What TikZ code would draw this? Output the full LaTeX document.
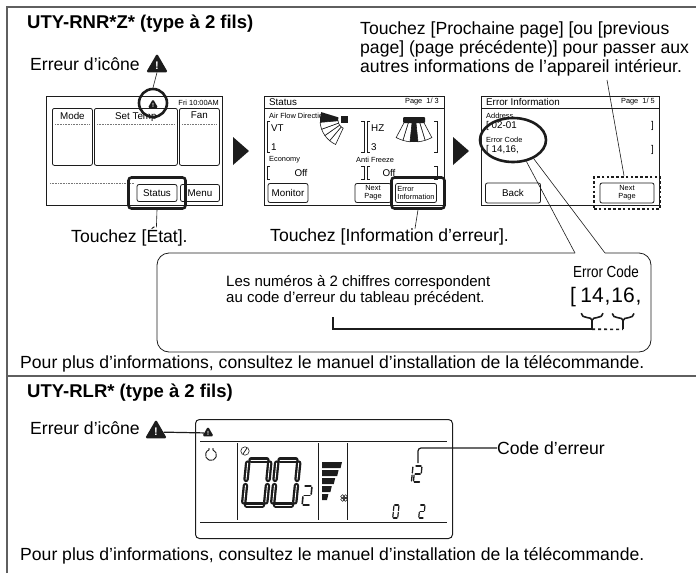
\documentclass[tikz,border=0pt]{standalone}
\usepackage{fontspec}
\setmainfont{Liberation Sans}
\usetikzlibrary{positioning,calc,shapes.geometric}
\definecolor{ink}{RGB}{28,28,28}
\definecolor{rule}{RGB}{95,95,95}
\tikzset{
  body/.style={font=\fontsize{17.6}{19}\selectfont, inner sep=0pt},
  heading/.style={font=\fontsize{18.5}{21}\selectfont\bfseries, inner sep=0pt},
  note/.style={font=\fontsize{15}{16}\selectfont, inner sep=0pt},
  tiny/.style={font=\fontsize{7.4}{8}\selectfont, inner sep=0pt},
  small/.style={font=\fontsize{9.8}{10}\selectfont, inner sep=0pt},
  errdigits/.style={font=\fontsize{21}{21}\selectfont, inner sep=0pt},
  frame/.style={rule, line width=1.1pt},
  screen/.style={draw=ink, line width=0.9pt, fill=white},
  key/.style={draw=ink, rounded corners=2pt, line width=0.8pt, fill=white},
  hilite/.style={draw=ink, line width=2.6pt, rounded corners=3pt},
  dothilite/.style={draw=ink, line width=2.6pt, dash pattern=on 2.6pt off 2.2pt},
  ring/.style={ellipse, draw=ink, line width=2.6pt, inner sep=0pt},
  leader/.style={ink, line width=0.6pt},
  brk/.style={ink, line width=0.6pt},
  dotsep/.style={ink!60, line width=0.4pt, dash pattern=on 0.8pt off 0.8pt},
  warnsign/.style={regular polygon, regular polygon sides=3, fill=ink,
                   rounded corners=1.5pt, inner sep=0pt, minimum size=#1,
                   text=white},
  wedge/.style={draw=ink, line width=0.6pt, fill=white},
  codeline/.style={ink, line width=1.6pt},
  lcdseg/.style={ink, line width=1.6pt, line cap=round},
  pics/lcddigit/.style={code={
    \coordinate (sA1) at (0.14,0);  \coordinate (sA2) at (0.86,0);
    \coordinate (sB1) at (1,0.14);  \coordinate (sB2) at (1,0.86);
    \coordinate (sC1) at (1,1.14);  \coordinate (sC2) at (1,1.86);
    \coordinate (sD1) at (0.14,2);  \coordinate (sD2) at (0.86,2);
    \coordinate (sE1) at (0,1.14);  \coordinate (sE2) at (0,1.86);
    \coordinate (sF1) at (0,0.14);  \coordinate (sF2) at (0,0.86);
    \coordinate (sG1) at (0.14,1);  \coordinate (sG2) at (0.86,1);
    \foreach \s in {#1} \draw[lcdseg] (s\s1) -- (s\s2);
  }},
}

\begin{document}
\begin{tikzpicture}[x=1pt,y=-1pt]
  \useasboundingbox (0,0) rectangle (696,573);
  \draw[frame] (7,573) -- (7,7) -- (696,7);
  \draw[frame] (7,376) -- (696,376);

  % ---------- UTY-RNR*Z*
  \node[heading, anchor=west] (title1) at (27,24) {UTY-RNR*Z* (type à 2 fils)};
  \node[body, anchor=west] (icon1) at (30,64) {Erreur d’icône};
  \node[warnsign=25pt, font=\fontsize{11}{11}\selectfont\bfseries] (warn1) at (157,66) {!};
  \node[body, anchor=north west, align=left] (hint) at (360,22)
    {Touchez [Prochaine page] [ou [previous\\page] (page précédente)] pour passer aux\\autres informations de l’appareil intérieur.};

  % ecran principal
  \node[screen, minimum width=176, minimum height=109, anchor=north west] (scr1) at (46,96) {};
  \node[tiny, anchor=east] (clock1) at (219,103) {Fri 10:00AM};
  \node[warnsign=12pt, font=\fontsize{6}{6}\selectfont\bfseries] (warn1s) at (153,105) {!};
  \node[key, minimum width=40, minimum height=57, anchor=north west] (kmode) at (52,108) {};
  \node[key, minimum width=83, minimum height=57, anchor=north west] (ktemp) at (94,108) {};
  \node[key, minimum width=40, minimum height=57, anchor=north west] (kfan) at (179,108) {};
  \node[small, below=4pt of kmode.north] {Mode};
  \node[small, below=4pt of ktemp.north] {Set Temp};
  \node[small, below=4pt of kfan.north] {Fan};
  \draw[dotsep] ([xshift=3pt,yshift=-16pt]kmode.north west) -- ([xshift=-3pt,yshift=-16pt]kmode.north east);
  \draw[dotsep] ([xshift=3pt,yshift=-16pt]ktemp.north west) -- ([xshift=-3pt,yshift=-16pt]ktemp.north east);
  \draw[dotsep] ([xshift=3pt,yshift=-16pt]kfan.north west) -- ([xshift=-3pt,yshift=-16pt]kfan.north east);
  \draw[dotsep] (50,183) -- (134,183);
  \node[key, small, minimum width=40, minimum height=17] (kstatus) at (157,193) {Status};
  \node[key, small, minimum width=39, minimum height=17] (kmenu) at (200,193) {Menu};
  \node[hilite, minimum width=57, minimum height=31] (hl1) at (157,193) {};
  \node[ring, minimum width=28, minimum height=28] (ring1) at (153,103) {};
  \draw[leader] (warn1.south) -- (ring1.north);
  \node[body, anchor=west] (tap1) at (71,237) {Touchez [État].};
  \draw[leader] (hl1.south) -- ([xshift=27pt]tap1.north);

  \fill[ink] (233,137) -- (249,151) -- (233,165) -- cycle;

  % ecran Status
  \node[screen, minimum width=180, minimum height=109, anchor=north west] (scr2) at (264,96) {};
  \node[small, anchor=west] at (269,102) {Status};
  \node[tiny, anchor=east] at (439,102) {Page\ \ 1/ 3};
  \draw[ink, line width=0.6pt] (264,108) -- (444,108);
  \node[tiny, anchor=west] at (269,116) {Air Flow Direction};
  \draw[brk] (270,121) -- (267,121) -- (267,152) -- (270,152);
  \draw[brk] (361,121) -- (364,121) -- (364,152) -- (361,152);
  \draw[brk] (370,121) -- (367,121) -- (367,152) -- (370,152);
  \draw[brk] (434,121) -- (437,121) -- (437,152) -- (434,152);
  \node[small, anchor=west] at (271,128) {VT};
  \node[small, anchor=west] at (271,147) {1};
  \node[small, anchor=west] at (371,128) {HZ};
  \node[small, anchor=west] at (371,147) {3};
  \begin{scope}[shift={(347,120)}]
    \foreach \a in {115,130,145,160}
      \draw[wedge] (\a:9) arc[start angle=\a, end angle=\a+15, radius=9]
        -- (\a+15:27) arc[start angle=\a+15, end angle=\a, radius=27] -- cycle;
    \fill[ink] (175:9) arc[start angle=175, end angle=197, radius=9]
      -- (197:27) arc[start angle=197, end angle=175, radius=27] -- cycle;
    \fill[ink] (-6,-4) rectangle (1,3);
  \end{scope}
  \begin{scope}[shift={(414,104)}]
    \foreach \a in {62,73,96,107}
      \draw[wedge] (\a:18) arc[start angle=\a, end angle=\a+11, radius=18]
        -- (\a+11:38) arc[start angle=\a+11, end angle=\a, radius=38] -- cycle;
    \fill[ink] (84:18) arc[start angle=84, end angle=96, radius=18]
      -- (96:38) arc[start angle=96, end angle=84, radius=38] -- cycle;
    \fill[ink, rounded corners=1pt] (-11,13) rectangle (11,19);
  \end{scope}
  \node[tiny, anchor=west] at (269,160) {Economy};
  \node[tiny, anchor=west] at (356,160) {Anti Freeze};
  \draw[brk] (270,166) -- (267,166) -- (267,179) -- (270,179);
  \draw[brk] (361,166) -- (364,166) -- (364,179) -- (361,179);
  \draw[brk] (370,166) -- (367,166) -- (367,179) -- (370,179);
  \draw[brk] (434,166) -- (437,166) -- (437,179) -- (434,179);
  \node[small] at (301,173) {Off};
  \node[small] at (389,173) {Off};
  \node[key, small, minimum width=40, minimum height=19] (kmon) at (288,193) {Monitor};
  \node[key, tiny, minimum width=36, minimum height=19, align=center] (knext2) at (373,193) {Next\\Page};
  \node[key, tiny, minimum width=41, minimum height=19, align=left] (kerr) at (416,193) {Error\\Information};
  \node[hilite, minimum width=53, minimum height=31] (hl2) at (418,193) {};
  \node[body, anchor=west] (tap2) at (270,237) {Touchez [Information d’erreur].};
  \draw[leader] (hl2.south) -- ([xshift=145pt]tap2.north west);

  \fill[ink] (453,137) -- (469,151) -- (453,165) -- cycle;

  % ecran Error Information
  \node[screen, minimum width=178, minimum height=109, anchor=north west] (scr3) at (481,96) {};
  \node[small, anchor=west] at (486,102) {Error Information};
  \node[tiny, anchor=east] at (655,102) {Page\ \ 1/ 5};
  \draw[ink, line width=0.6pt] (481,108) -- (659,108);
  \node[tiny, anchor=west] at (486,116) {Address};
  \node[small, anchor=west] at (486,126) {[ 02-01};
  \node[small, anchor=east] at (654,126) {]};
  \node[tiny, anchor=west] at (486,140) {Error Code};
  \node[small, anchor=west] at (486,150) {[ 14,16,};
  \node[small, anchor=east] at (654,150) {]};
  \node[key, small, minimum width=55, minimum height=20] (kback) at (513,193) {Back};
  \node[key, tiny, minimum width=54, minimum height=20, align=center] (knext3) at (627,193) {Next\\Page};
  \node[dothilite, minimum width=66, minimum height=32] (hl3) at (627,193) {};
  \node[ring, minimum width=66, minimum height=44] (ring3) at (513,140) {};
  \coordinate (hintfoot) at (607,80);
  \draw[leader] (hintfoot) -- ([xshift=-3pt]hl3.north);

  % bulle
  \coordinate (tailL) at (575,253);
  \coordinate (tailR) at (605,253);
  \draw[ink, line width=0.8pt, rounded corners=12pt]
    (tailL) -- (157,253) -- (157,352) -- (651,352) -- (651,253) -- (tailR);
  \draw[leader] (ring3.-58) -- (tailL);
  \draw[leader] (ring3.-42) -- (tailR);
  \node[note, anchor=north west, align=left] (codenote) at (226,275)
    {Les numéros à 2 chiffres correspondent\\au code d’erreur du tableau précédent.};
  \node[font=\fontsize{16}{16}\selectfont, inner sep=0pt] (codehead) at (606,272)
    {\scalebox{0.84}[1]{Error Code}};
  \node[errdigits, anchor=base west] (obr) at (570,302) {[};
  \node[errdigits, base right=4pt of obr] (n14) {14};
  \node[errdigits, base right=0.5pt of n14] (c14) {,};
  \node[errdigits, base right=0.5pt of c14] (n16) {16};
  \node[errdigits, base right=0.5pt of n16] (c16) {,};
  % accolades sous les deux codes
  \coordinate (b14l) at ($(n14.south west)+(1,11)$);
  \coordinate (b14r) at ($(n14.south east)+(-1,11)$);
  \coordinate (b14m) at ($(n14.south)+(0,18)$);
  \coordinate (tip14) at ($(n14.south)+(0,27)$);
  \coordinate (b16l) at ($(n16.south west)+(1,11)$);
  \coordinate (b16r) at ($(n16.south east)+(-1,11)$);
  \coordinate (b16m) at ($(n16.south)+(0,18)$);
  \coordinate (tip16) at ($(n16.south)+(0,27)$);
  \draw[codeline] (b14l) .. controls ($(b14l)+(0,6)$) and ($(b14m)+(0,-4)$) .. (b14m)
    .. controls ($(b14m)+(0,-4)$) and ($(b14r)+(0,6)$) .. (b14r);
  \draw[codeline] (b16l) .. controls ($(b16l)+(0,6)$) and ($(b16m)+(0,-4)$) .. (b16m)
    .. controls ($(b16m)+(0,-4)$) and ($(b16r)+(0,6)$) .. (b16r);
  \draw[codeline] (b14m) -- (tip14);
  \draw[codeline] (b16m) -- (tip16);
  \draw[codeline] (333,317) |- (tip14);
  \draw[codeline, dash pattern=on 3pt off 3pt] (tip14) -- (tip16);

  \node[body, anchor=west] (more1) at (20,364)
    {Pour plus d’informations, consultez le manuel d’installation de la télécommande.};

  % ---------- UTY-RLR*
  \node[heading, anchor=west] (title2) at (27,393) {UTY-RLR* (type à 2 fils)};
  \node[body, anchor=west] (icon2) at (30,428) {Erreur d’icône};
  \node[warnsign=25pt, font=\fontsize{11}{11}\selectfont\bfseries] (warn2) at (156,432) {!};

  \node[draw=ink, line width=1pt, rounded corners=4pt, minimum width=257, minimum height=119,
        anchor=north west] (lcd) at (195,419) {};
  \node[warnsign=13pt, font=\fontsize{6}{6}\selectfont\bfseries] (lcdwarn) at (208,433) {!};
  \draw[ink, line width=1.2pt] (warn2) -- (lcdwarn);
  \draw[ink, line width=1pt] (200,441) -- (447,441);
  \draw[ink, line width=1pt] (200,522) -- (447,522);
  \foreach \x in {237,318,347}
    \draw[ink, line width=0.8pt] (\x,443) -- (\x,520);
  % pictos de l'afficheur
  \draw[ink, line width=0.9pt] (211,455) ++(290:5.5) arc[start angle=290, end angle=610, radius=5.5];
  \fill[ink] (209,449) circle[radius=0.9] (213,449) circle[radius=0.9];
  \draw[ink, line width=0.6pt] (245,451) circle[radius=4.2];
  \draw[ink, line width=0.8pt] (243,454) -- (245,451) -- (247,448);
  \path (248,460) pic[x=22pt, y=-22.5pt, xslant=0.1,
     lcdseg/.append style={line width=2.3pt, double=white, double distance=0.9pt}]
     {lcddigit={A,B,C,D,E,F}};
  \path (277,460) pic[x=22pt, y=-22.5pt, xslant=0.1,
     lcdseg/.append style={line width=2.3pt, double=white, double distance=0.9pt}]
     {lcddigit={A,B,C,D,E,F}};
  \path (304,486) pic[x=8pt, y=-9.5pt, xslant=0.1, lcdseg/.append style={line width=1.6pt}]
     {lcddigit={A,B,G,E,D}};
  \foreach \i in {0,...,4}
    \fill[ink] (322,462+8*\i) -- (342-3.4*\i,462+8*\i) -- (340.6-3.4*\i,468+8*\i) -- (322,468+8*\i) -- cycle;
  \foreach \a in {0,90,180,270}
    \draw[ink, line width=0.5pt] (344,498) ++(\a+45:2) circle[radius=1.9];
  \path (407,466) pic[x=6pt, y=-8pt, xslant=0.1, lcdseg/.append style={line width=1.3pt}]
     {lcddigit={B,C}};
  \path (415,466) pic[x=7pt, y=-8pt, xslant=0.1, lcdseg/.append style={line width=1.3pt}]
     {lcddigit={A,B,G,E,D}};
  \path (394,505) pic[x=5pt, y=-6.5pt, xslant=0.1, lcdseg/.append style={line width=1.2pt}]
     {lcddigit={A,B,C,D,E,F}};
  \path (420,505) pic[x=5pt, y=-6.5pt, xslant=0.1, lcdseg/.append style={line width=1.2pt}]
     {lcddigit={A,B,G,E,D}};
  \coordinate (code12) at (418,463);
  \node[body, anchor=west] (codelbl) at (497,448) {Code d’erreur};
  \draw[ink, line width=1.2pt, rounded corners=3pt] (code12) |- (codelbl.west);

  \node[body, anchor=west] (more2) at (20,556)
    {Pour plus d’informations, consultez le manuel d’installation de la télécommande.};
\end{tikzpicture}
\end{document}
